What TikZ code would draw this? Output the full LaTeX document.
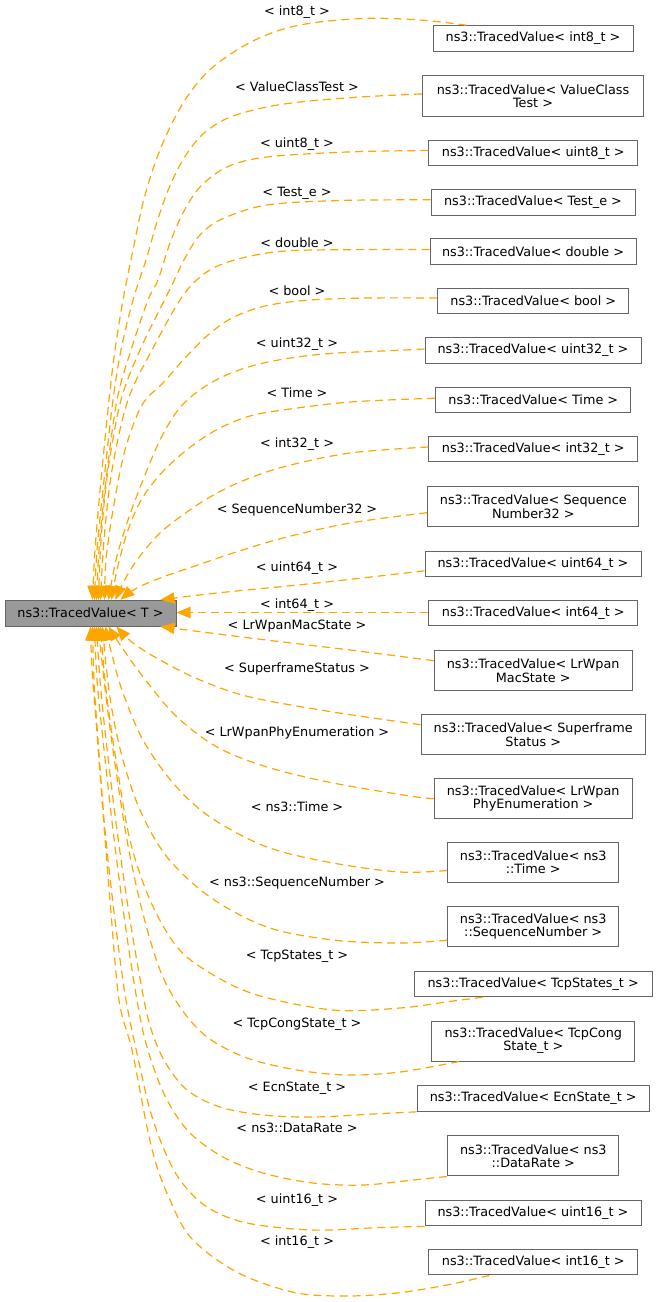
\documentclass[tikz,border=0pt]{standalone}
\usepackage{fontspec}
\setmainfont{DejaVu Sans}
\usetikzlibrary{arrows.meta,calc}
\definecolor{edgeorange}{HTML}{FFA500}
\definecolor{nodeborder}{HTML}{666666}
\definecolor{basefill}{HTML}{999999}
\newlength{\pxu}\setlength{\pxu}{0.75pt}
\begin{document}
\begin{tikzpicture}[x=0.75pt,y=-0.75pt,
  font=\fontsize{9.6pt}{9.8pt}\selectfont,
  cls/.style={draw=nodeborder, line width=0.75pt, fill=white, inner sep=0pt, align=center, text=black},
  basecls/.style={cls, fill=basefill},
  lbl/.style={inner sep=0pt, text=black, text height=7pt, text depth=0pt},
  dep/.style={draw=edgeorange, line width=0.9pt, dash pattern=on 6pt off 3.8pt,
    -{Triangle[length=10.5pt, width=8.5pt, fill=edgeorange]}},
  sm/.style={smooth, tension=0.55}]
\useasboundingbox (0,0) rectangle (657,1302);
% base node
\node[basecls, minimum width=171\pxu, minimum height=25.7\pxu] (base) at (90.5,613.2) {ns3::TracedValue< T >};
% derived nodes
\node[cls, minimum width=200\pxu, minimum height=25.6\pxu] (n1) at (533,38.5) {ns3::TracedValue< int8\_t >};
\node[cls, minimum width=220.6\pxu, minimum height=40.3\pxu] (n2) at (533,95.9) {ns3::TracedValue< ValueClass\\Test >};
\node[cls, minimum width=208.7\pxu, minimum height=25.4\pxu] (n3) at (533.3,153) {ns3::TracedValue< uint8\_t >};
\node[cls, minimum width=204\pxu, minimum height=25.4\pxu] (n4) at (533,202.3) {ns3::TracedValue< Test\_e >};
\node[cls, minimum width=206\pxu, minimum height=25.4\pxu] (n5) at (533,251.5) {ns3::TracedValue< double >};
\node[cls, minimum width=191.3\pxu, minimum height=25.4\pxu] (n6) at (533.3,301) {ns3::TracedValue< bool >};
\node[cls, minimum width=216\pxu, minimum height=25.4\pxu] (n7) at (533,350.5) {ns3::TracedValue< uint32\_t >};
\node[cls, minimum width=195.3\pxu, minimum height=25.4\pxu] (n8) at (533.3,399.7) {ns3::TracedValue< Time >};
\node[cls, minimum width=208.7\pxu, minimum height=25.4\pxu] (n9) at (533.3,449) {ns3::TracedValue< int32\_t >};
\node[cls, minimum width=211.3\pxu, minimum height=40\pxu] (n10) at (533.3,506.7) {ns3::TracedValue< Sequence\\Number32 >};
\node[cls, minimum width=216\pxu, minimum height=25\pxu] (n11) at (533,563.8) {ns3::TracedValue< uint64\_t >};
\node[cls, minimum width=208.7\pxu, minimum height=25\pxu] (n12) at (533.3,613.2) {ns3::TracedValue< int64\_t >};
\node[cls, minimum width=197.7\pxu, minimum height=40\pxu] (n13) at (533.2,670.7) {ns3::TracedValue< LrWpan\\MacState >};
\node[cls, minimum width=224.3\pxu, minimum height=40\pxu] (n14) at (533.2,734.7) {ns3::TracedValue< Superframe\\Status >};
\node[cls, minimum width=197.7\pxu, minimum height=40\pxu] (n15) at (533.2,798.7) {ns3::TracedValue< LrWpan\\PhyEnumeration >};
\node[cls, minimum width=171\pxu, minimum height=40.4\pxu] (n16) at (533.2,862.5) {ns3::TracedValue< ns3\\::Time >};
\node[cls, minimum width=171\pxu, minimum height=39.7\pxu] (n17) at (533.2,926.2) {ns3::TracedValue< ns3\\::SequenceNumber >};
\node[cls, minimum width=237.7\pxu, minimum height=25\pxu] (n18) at (533.2,984.2) {ns3::TracedValue< TcpStates\_t >};
\node[cls, minimum width=203.3\pxu, minimum height=40\pxu] (n19) at (533.3,1041) {ns3::TracedValue< TcpCong\\State\_t >};
\node[cls, minimum width=232.3\pxu, minimum height=25.6\pxu] (n20) at (533.2,1098.5) {ns3::TracedValue< EcnState\_t >};
\node[cls, minimum width=171.3\pxu, minimum height=40.3\pxu] (n21) at (533.3,1155.8) {ns3::TracedValue< ns3\\::DataRate >};
\node[cls, minimum width=216\pxu, minimum height=25.3\pxu] (n22) at (533,1213.3) {ns3::TracedValue< uint16\_t >};
\node[cls, minimum width=208.7\pxu, minimum height=25.3\pxu] (n23) at (533.3,1262.3) {ns3::TracedValue< int16\_t >};
% edge labels
\node[lbl] (l1) at (297,11) {< int8\_t >};
\node[lbl] (l2) at (297,87.3) {< ValueClassTest >};
\node[lbl] (l3) at (297,142.7) {< uint8\_t >};
\node[lbl] (l4) at (297,191.7) {< Test\_e >};
\node[lbl] (l5) at (297,242.7) {< double >};
\node[lbl] (l6) at (297,291.3) {< bool >};
\node[lbl] (l7) at (297,342.7) {< uint32\_t >};
\node[lbl] (l8) at (297,392.7) {< Time >};
\node[lbl] (l9) at (297,442.7) {< int32\_t >};
\node[lbl] (l10) at (297,509) {< SequenceNumber32 >};
\node[lbl] (l11) at (297,566.7) {< uint64\_t >};
\node[lbl] (l12) at (297,604.3) {< int64\_t >};
\node[lbl] (l13) at (297,624.7) {< LrWpanMacState >};
\node[lbl] (l14) at (297,668.3) {< SuperframeStatus >};
\node[lbl] (l15) at (297,732.3) {< LrWpanPhyEnumeration >};
\node[lbl] (l16) at (297,807.3) {< ns3::Time >};
\node[lbl] (l17) at (297,882.3) {< ns3::SequenceNumber >};
\node[lbl] (l18) at (297,955) {< TcpStates\_t >};
\node[lbl] (l19) at (297,1022.7) {< TcpCongState\_t >};
\node[lbl] (l20) at (297,1086.7) {< EcnState\_t >};
\node[lbl] (l21) at (297,1128.3) {< ns3::DataRate >};
\node[lbl] (l22) at (297,1198.7) {< uint16\_t >};
\node[lbl] (l23) at (297,1240.7) {< int16\_t >};
% edge end coordinates
\coordinate (s1) at ($(n1.north west)+(34,0)$);
\coordinate (s2) at ($(n2.west)+(0,-2)$);
\coordinate (s3) at ($(n3.west)+(0,-2.5)$);
\coordinate (s4) at ($(n4.west)+(0,-2.5)$);
\coordinate (s5) at ($(n5.west)+(0,-2)$);
\coordinate (s6) at ($(n6.west)+(0,-3)$);
\coordinate (s7) at ($(n7.west)+(0,-1.5)$);
\coordinate (s8) at ($(n8.west)+(0,-1.5)$);
\coordinate (s9) at ($(n9.west)+(0,-2)$);
\coordinate (s10) at ($(n10.west)+(0,6)$);
\coordinate (s11) at ($(n11.west)+(0,7)$);
\coordinate (s12) at ($(n12.west)+(0,-0.7)$);
\coordinate (s13) at ($(n13.west)+(0,-10)$);
\coordinate (s14) at ($(n14.west)+(0,-10)$);
\coordinate (s15) at (n15.west);
\coordinate (s16) at ($(n16.west)+(0,8)$);
\coordinate (s17) at ($(n17.west)+(0,14)$);
\coordinate (s18) at ($(n18.south west)+(69,0)$);
\coordinate (s19) at ($(n19.south west)+(28,0)$);
\coordinate (s20) at (n20.south west);
\coordinate (s21) at (n21.south west);
\coordinate (s22) at (n22.south west);
\coordinate (s23) at ($(n23.south west)+(61,0)$);
\coordinate (t1) at ($(base.north west)+(88,0)$);
\coordinate (t2) at ($(base.north west)+(90,0)$);
\coordinate (t3) at ($(base.north west)+(92,0)$);
\coordinate (t4) at ($(base.north west)+(94,0)$);
\coordinate (t5) at ($(base.north west)+(96,0)$);
\coordinate (t6) at ($(base.north west)+(100,0)$);
\coordinate (t7) at ($(base.north west)+(104,0)$);
\coordinate (t8) at ($(base.north west)+(107,0)$);
\coordinate (t9) at ($(base.north west)+(111,0)$);
\coordinate (t10) at ($(base.north west)+(116,0)$);
\coordinate (t11) at ($(base.north west)+(156,0)$);
\coordinate (t12) at ($(base.east)+(0,-0.7)$);
\coordinate (t13) at ($(base.south west)+(156,0)$);
\coordinate (t14) at ($(base.south west)+(112,0)$);
\coordinate (t15) at ($(base.south west)+(104,0)$);
\coordinate (t16) at ($(base.south west)+(101,0)$);
\coordinate (t17) at ($(base.south west)+(98,0)$);
\coordinate (t18) at ($(base.south west)+(96,0)$);
\coordinate (t19) at ($(base.south west)+(94,0)$);
\coordinate (t20) at ($(base.south west)+(92,0)$);
\coordinate (t21) at ($(base.south west)+(90,0)$);
\coordinate (t22) at ($(base.south west)+(88,0)$);
\coordinate (t23) at ($(base.south west)+(86,0)$);
% edges
\draw[dep] plot[sm] coordinates {(s1) (420,20) (363,18.5) (300,25) (255,40) (213,67) (185,100) (162,145) (145,195) (133,250) (123,300) (115,350) (109,400) (101,480) (95,550) (t1)};
\draw[dep] plot[sm] coordinates {(s2) (360,97) (300,102) (262,108) (228,118) (203,134) (184,158) (169,188) (157,222) (146,260) (133,300) (121,350) (113,400) (104,480) (97,550) (t2)};
\draw[dep] plot[sm] coordinates {(s3) (347,152) (267,157) (227,167) (200,187) (183,213) (170,243) (158,280) (148,300) (131,350) (117,400) (106,480) (99,550) (t3)};
\draw[dep] plot[sm] coordinates {(s4) (340,200.5) (267,205) (222,219) (200,235) (185,258) (172,285) (162,305) (140,350) (121,400) (108,470) (101,540) (t4)};
\draw[dep] plot[sm] coordinates {(s5) (313,250) (267,253) (225,263) (200,277) (180,300) (152,350) (128,400) (112,470) (104,540) (t5)};
\draw[dep] plot[sm] coordinates {(s6) (370,298) (310,300) (265,306) (232,318) (208,335) (185,358) (163,383) (142,405) (125,450) (113,510) (106,560) (t6)};
\draw[dep] plot[sm] coordinates {(s7) (383,351) (337,353) (297,357) (255,365) (222,377) (197,392) (178,410) (160,440) (143,480) (128,520) (116,560) (t7)};
\draw[dep] plot[sm] coordinates {(s8) (350,402) (283,410) (250,416) (222,427) (200,440) (177,458) (157,478) (140,502) (127,533) (117,570) (t8)};
\draw[dep] plot[sm] coordinates {(s9) (350,453) (283,467) (240,482) (210,497) (187,512) (160,533) (137,560) (123,583) (t9)};
\draw[dep] plot[sm] coordinates {(s10) (350,523) (283,538) (233,553) (195,566) (160,578) (135,589) (t10)};
\draw[dep] plot[sm] coordinates {(s11) (317,583) (217,593) (t11)};
\draw[dep] (s12) -- (t12);
\draw[dep] plot[sm] coordinates {(s13) (350,650) (250,638) (t13)};
\draw[dep] plot[sm] coordinates {(s14) (333,712) (250,697) (200,680) (160,660) (133,643) (t14)};
\draw[dep] plot[sm] coordinates {(s15) (410,796) (333,783) (267,767) (217,747) (177,717) (147,682) (125,652) (t15)};
\draw[dep] plot[sm] coordinates {(s16) (400,872) (333,863) (267,847) (210,817) (173,783) (143,740) (123,693) (112,655) (t16)};
\draw[dep] plot[sm] coordinates {(s17) (400,943) (333,940) (267,927) (210,897) (167,857) (140,810) (123,760) (112,710) (106,665) (t17)};
\draw[dep] plot[sm] coordinates {(s18) (453,1001) (400,1008) (333,1010) (257,995) (210,973) (177,947) (150,900) (130,840) (116,760) (106,690) (t18)};
\draw[dep] plot[sm] coordinates {(s19) (400,1072) (347,1075) (297,1070) (247,1058) (207,1037) (180,1007) (160,970) (142,910) (127,840) (113,750) (104,680) (t19)};
\draw[dep] plot[sm] coordinates {(s20) (373,1114) (313,1117) (263,1115) (220,1107) (187,1090) (165,1062) (152,1032) (144,1000) (130,920) (117,830) (106,740) (100,680) (t20)};
\draw[dep] plot[sm] coordinates {(s21) (413,1180) (363,1185) (313,1183) (263,1173) (223,1157) (190,1133) (167,1100) (151,1060) (140,1017) (126,930) (113,830) (103,740) (97,680) (t21)};
\draw[dep] plot[sm] coordinates {(s22) (380,1227.5) (313,1230) (247,1223) (207,1207) (180,1180) (163,1147) (150,1110) (140,1067) (126,1000) (115,920) (105,830) (98,740) (94,680) (t22)};
\draw[dep] plot[sm] coordinates {(s23) (447,1285) (397,1293) (347,1296) (297,1293) (247,1277) (213,1257) (187,1233) (170,1200) (157,1167) (147,1127) (132,1050) (119,1000) (110,900) (102,800) (96,720) (92,670) (t23)};
\end{tikzpicture}
\end{document}
